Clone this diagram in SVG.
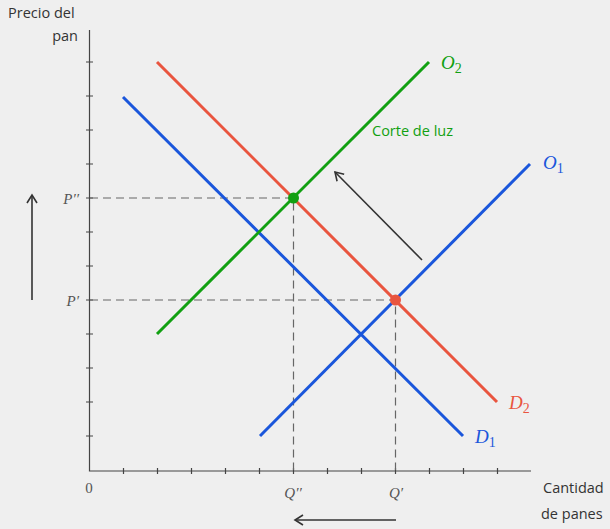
<svg xmlns="http://www.w3.org/2000/svg" width="610" height="529" viewBox="0 0 610 529">
<defs>
<style>
.ax{stroke:#444;stroke-width:1.2;fill:none}
.tk{stroke:#444;stroke-width:1.2}
.dash{stroke:#666;stroke-width:1.2;stroke-dasharray:8,5;fill:none}
.curve{stroke-width:3;fill:none}
.lbl{font-family:"Open Sans","Noto Sans",sans-serif;font-size:14.5px;fill:#333}
.math{font-family:"Liberation Serif","DejaVu Serif",serif;font-style:italic}
.up{font-style:normal}
.arr{stroke:#333;stroke-width:1.6;fill:none}
</style>
<marker id="ah" viewBox="0 0 12 12" refX="10" refY="6" markerWidth="12" markerHeight="12" markerUnits="userSpaceOnUse" orient="auto">
<path d="M2,1 L10,6 L2,11" fill="none" stroke="#333" stroke-width="1.6"/>
</marker>
</defs>
<rect width="610" height="529" fill="#efefef"/>

<g id="axes">
<path class="ax" d="M89.5,30 V471 H531"/>
<g class="tk">
<path d="M86,62 h7 M86,96 h7 M86,130 h7 M86,164 h7 M86,198 h7 M86,232 h7 M86,266 h7 M86,300 h7 M86,334 h7 M86,368 h7 M86,402 h7 M86,436 h7"/>
<path d="M123.5,468 v6 M157.5,468 v6 M191.5,468 v6 M225.5,468 v6 M259.5,468 v6 M293.5,468 v6 M327.5,468 v6 M361.5,468 v6 M395.5,468 v6 M429.5,468 v6 M463.5,468 v6 M497.5,468 v6"/>
</g>
<text class="lbl" x="8" y="18">Precio del</text>
<text class="lbl" x="78" y="41" text-anchor="end">pan</text>
<text class="lbl" x="543" y="493">Cantidad</text>
<text class="lbl" x="541" y="519">de panes</text>
<text class="math up" x="89" y="493" text-anchor="middle" font-size="15" fill="#555">0</text>
<text class="math" x="293" y="498" text-anchor="middle" font-size="15" fill="#555">Q′′</text>
<text class="math" x="396" y="498" text-anchor="middle" font-size="15" fill="#555">Q′</text>
<text class="math" x="79" y="204" text-anchor="end" font-size="15" fill="#555">P′′</text>
<text class="math" x="79" y="306" text-anchor="end" font-size="15" fill="#555">P′</text>
</g>

<g id="guides">
<path class="dash" d="M90,198 H293.5 V470"/>
<path class="dash" d="M90,300 H395.5 V470"/>
</g>

<g id="D1">
<path class="curve" stroke="#1a56db" d="M123,97 L463,436"/>
<text class="math" x="475" y="443" font-size="19" fill="#1a56db">D<tspan class="up" font-size="14" dy="4">1</tspan></text>
</g>
<g id="D2">
<path class="curve" stroke="#e9553f" d="M157,62 L497,402"/>
<text class="math" x="509" y="409" font-size="19" fill="#e9553f">D<tspan class="up" font-size="14" dy="4">2</tspan></text>
</g>
<g id="O1">
<path class="curve" stroke="#1a56db" d="M260,436 L530,164"/>
<text class="math" x="543" y="169" font-size="19" fill="#1a56db">O<tspan class="up" font-size="14" dy="4">1</tspan></text>
</g>
<g id="O2">
<path class="curve" stroke="#11a011" d="M157,334 L429,62"/>
<text class="math" x="441" y="69" font-size="19" fill="#11a011">O<tspan class="up" font-size="14" dy="4">2</tspan></text>
<text class="lbl" x="372" y="136" style="fill:#11a011">Corte de luz</text>
</g>

<g id="points">
<circle cx="293.5" cy="198" r="5.5" fill="#11a011"/>
<circle cx="395.5" cy="300" r="5.5" fill="#e9553f"/>
</g>

<g id="connectors">
<path class="arr" d="M422,260 L335,172" marker-end="url(#ah)"/>
<path class="arr" d="M32,300 L32,195" marker-end="url(#ah)"/>
<path class="arr" d="M396,520 L295,520" marker-end="url(#ah)"/>
</g>
</svg>
